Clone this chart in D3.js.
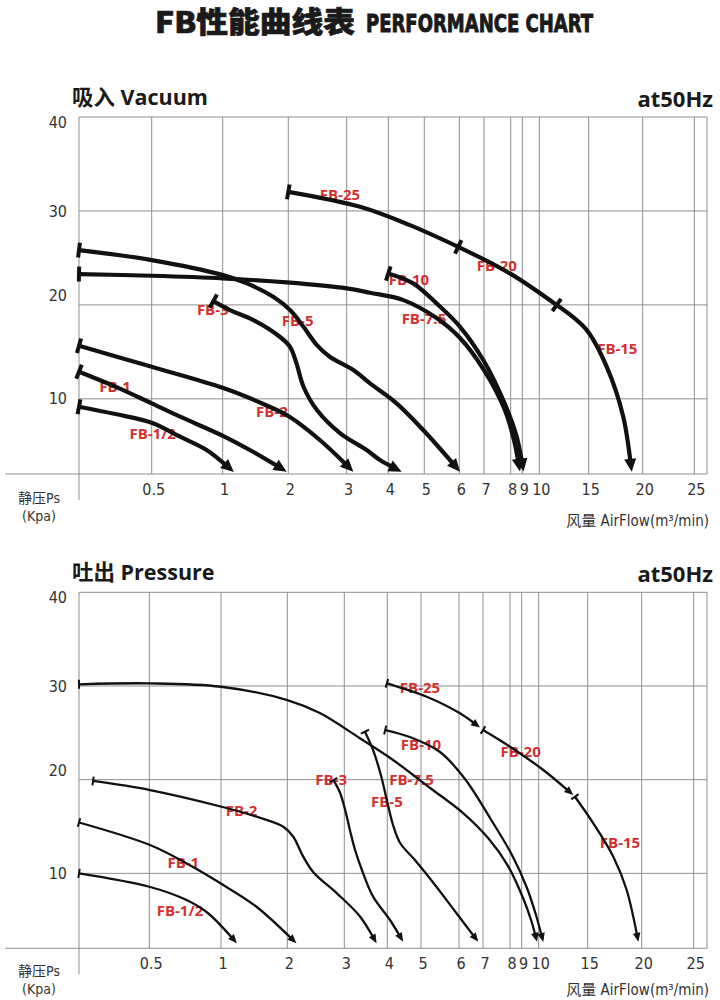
<!DOCTYPE html>
<html><head><meta charset="utf-8">
<script src="https://cdn.jsdelivr.net/npm/d3@7/dist/d3.min.js"></script>
<style>body{margin:0;background:#fff}svg{display:block}</style>
</head><body>
<script>
// ---------- data ----------
const xTicks = [0.5, 1, 2, 3, 4, 5, 6, 7, 8, 9, 10, 15, 20, 25];
const yTicks = [10, 20, 30, 40];
const xDomain = [0, ...xTicks, 26.2];
const yDomain = [2, 40];

// Vacuum (吸入) curves: [airflow m3/min, static pressure kPa]
const vacFB_1_2 = [[0,9.16],[0.25,8.38],[0.5,7.46],[0.70,5.97],[0.887,4.55],[1.17,2.2]];
const vacFB_1   = [[0,12.88],[0.25,11.3],[0.5,9.52],[0.70,8.10],[1.01,6.04],[1.47,4.34],[1.976,2.25]];
const vacFB_2   = [[0,15.65],[0.5,13.41],[1.01,11.15],[1.62,9.45],[2,8.17],[2.54,5.62],[3.16,2.25]];
const vacFB_3   = [[0.934,20.40],[1.11,19.45],[1.47,18.38],[1.87,16.61],[2.03,15.54],[2.14,13.78],[2.26,11.29],[2.49,8.81],[2.89,6.33],[3.48,4.55],[3.80,3.49],[4.37,2.25]];
const vacFB_5   = [[0,25.83],[0.5,24.77],[1.005,23.17],[1.37,22.29],[1.77,20.86],[2.03,19.45],[2.26,17.67],[2.49,15.72],[2.71,14.48],[3.16,13.06],[3.56,11.65],[4.23,9.52],[4.97,6.68],[6.03,2.25]];
const vacFB_7_5 = [[0,23.28],[0.5,23.10],[1.004,22.82],[1.976,22.39],[3.0,21.76],[3.56,21.29],[4.42,20.51],[5.35,18.60],[6.03,16.47],[7.0,13.06],[7.75,9.02],[8.28,5.62],[8.80,2.27]];
const vacFB_10  = [[4.0,23.35],[4.69,22.29],[5.35,20.16],[6.03,17.67],[6.97,14.13],[7.72,9.87],[8.52,5.97],[9.07,2.27]];
const vacFB_25  = [[2.0,32.03],[3.32,30.44],[4.60,28.49],[5.97,26.18]];
const vacFB_20  = [[5.97,26.18],[7.97,23.35],[11.76,19.98]];
const vacFB_15  = [[11.76,19.98],[14.80,17.32],[16.67,13.41],[18.20,8.10],[18.98,2.24]];

// Pressure (吐出) curves
const preFB_1_2 = [[0,10.00],[0.5,8.57],[0.76,7.15],[0.91,5.74],[1.24,2.53]];
const preFB_1   = [[0,15.43],[0.505,13.02],[0.78,10.89],[1.01,8.86],[1.54,6.41],[2.16,2.53]];
const preFB_2   = [[0.10,19.86],[0.505,18.89],[1.01,17.11],[1.54,16.04],[1.94,14.98],[2.105,13.91],[2.28,11.78],[2.46,10.09],[2.87,7.87],[3.37,5.37],[3.75,2.53]];
const preFB_3   = [[2.81,19.96],[2.92,18.68],[3.02,16.76],[3.13,14.63],[3.25,12.49],[3.41,10.36],[3.67,7.51],[4.08,5.02],[4.47,2.70]];
const preFB_5   = [[3.48,25.12],[3.67,23.16],[3.85,20.50],[4.02,17.29],[4.17,15.16],[4.38,13.24],[4.82,11.42],[5.37,8.76],[5.97,5.55],[6.80,2.70]];
const preFB_7_5 = [[0,30.18],[0.5,30.28],[1.0,29.92],[2.0,28.50],[2.57,27.11],[3.37,24.4],[4.17,22.10],[5.24,19.11],[6.17,16.44],[7.19,13.77],[7.93,10.78],[9.08,7.37],[9.55,5.02],[9.90,2.70]];
const preFB_10  = [[3.95,25.30],[4.67,24.55],[5.50,22.95],[6.25,20.07],[7.26,15.91],[8.17,11.96],[9.31,8.44],[9.84,5.55],[10.47,2.67]];
const preFB_25  = [[3.99,30.28],[5.15,28.85],[6.04,27.08],[6.875,25.56]];
const preFB_20  = [[7.0,25.30],[8.0,23.52],[10.47,21.03],[13.53,18.36]];
const preFB_15  = [[13.70,18.18],[15.52,15.34],[17.37,11.78],[18.61,8.22],[19.69,2.70]];

// Curve labels: [name, airflow, pressure]
const vacLabels = [["FB-25",2.885,31.76],["FB-20",7.48,24.16],["FB-15",17.65,15.37],["FB-10",4.575,22.74],["FB-7.5",4.99,18.56],["FB-5",2.16,18.31],["FB-3",0.93,19.52],["FB-2",1.75,8.63],["FB-1",0.248,11.29],["FB-1/2",0.507,6.33]];
const preLabels = [["FB-25",4.97,29.81],["FB-10",5.0,23.70],["FB-20",8.91,22.98],["FB-7.5",4.72,19.96],["FB-5",3.99,17.65],["FB-15",17.99,13.27],["FB-3",2.77,19.96],["FB-2",1.31,16.65],["FB-1",0.737,11.14],["FB-1/2",0.714,5.98]];

// ---------- drawing ----------
const NARROW = "'Liberation Sans Narrow','DejaVu Sans Condensed','Noto Sans CJK SC',sans-serif";
const BOLD = "'Open Sans','Noto Sans CJK SC',sans-serif";
const RED = "#d3302f";

const svg = d3.select("body").append("svg").attr("width",720).attr("height",1000);

// main title
svg.append("text").attr("x",155).attr("y",33).attr("fill","#1a1a1a").attr("stroke","#1a1a1a").attr("stroke-width",0.7)
  .attr("font-family","'Noto Sans CJK SC','Open Sans',sans-serif").attr("font-weight",900).attr("font-size",29)
  .attr("textLength",200).attr("lengthAdjust","spacingAndGlyphs").text("FB性能曲线表");
svg.append("text").attr("x",366).attr("y",32).attr("fill","#1a1a1a").attr("stroke","#1a1a1a").attr("stroke-width",0.9)
  .attr("font-family","'DejaVu Sans Condensed','DejaVu Sans',sans-serif").attr("font-stretch","condensed")
  .attr("font-weight",700).attr("font-size",25.5)
  .attr("textLength",227).attr("lengthAdjust","spacingAndGlyphs").text("PERFORMANCE CHART");

function drawPanel(o){
  const g = svg.append("g");
  const x = d3.scaleLinear().domain(xDomain).range(o.xRange);
  const y = d3.scaleLinear().domain(yDomain).range([o.yBottom, o.yTop]);
  const xMax = xDomain[xDomain.length-1];

  // headings
  g.append("text").attr("x",72).attr("y",o.yTop-12).attr("font-family",BOLD).attr("font-weight",700)
    .attr("font-size",21.5).attr("fill","#1a1a1a").text(o.heading);
  g.append("text").attr("x",713).attr("y",o.yTop-10).attr("text-anchor","end").attr("font-family",BOLD)
    .attr("font-weight",700).attr("font-size",22).attr("fill","#1a1a1a").text("at50Hz");

  // grid
  const grid = g.append("g").attr("stroke","#8e8e8e").attr("stroke-width",1);
  xTicks.forEach(v => grid.append("line").attr("x1",x(v)).attr("x2",x(v)).attr("y1",y(40)).attr("y2",y(2)));
  grid.append("line").attr("x1",x(0)).attr("x2",x(0)).attr("y1",y(40)).attr("y2",y(2)+26);
  grid.append("line").attr("x1",x(xMax)).attr("x2",x(xMax)).attr("y1",y(40)).attr("y2",y(2));
  yTicks.forEach(v => grid.append("line").attr("x1",x(0)).attr("x2",x(xMax)).attr("y1",y(v)).attr("y2",y(v)));
  grid.append("line").attr("x1",5).attr("x2",x(xMax)).attr("y1",y(2)).attr("y2",y(2));

  // y tick labels
  const nudge = {40:5, 20:-9};
  yTicks.forEach(v => g.append("text").attr("x",67).attr("y",y(v)+(nudge[v]||0)).attr("dy","0.35em")
    .attr("text-anchor","end").attr("font-family",NARROW).attr("font-stretch","condensed")
    .attr("font-size",16).attr("fill","#333").text(v));
  // x tick labels
  xTicks.forEach(v => g.append("text").attr("x",x(v)+2).attr("y",y(2)+15).attr("dy","0.35em")
    .attr("text-anchor","middle").attr("font-family",NARROW).attr("font-stretch","condensed")
    .attr("font-size",16).attr("fill","#333").text(v));
  // axis titles
  g.append("text").attr("x",39).attr("y",y(2)+o.psDy).attr("dy","0.35em").attr("text-anchor","middle")
    .attr("font-family",NARROW).attr("font-stretch","condensed").attr("font-size",14).attr("fill","#333").text("静压Ps");
  g.append("text").attr("x",39).attr("y",y(2)+o.psDy+18).attr("dy","0.35em").attr("text-anchor","middle")
    .attr("font-family",NARROW).attr("font-stretch","condensed").attr("font-size",14).attr("fill","#333").text("(Kpa)");
  g.append("text").attr("x",709).attr("y",y(2)+o.afDy).attr("dy","0.35em").attr("text-anchor","end")
    .attr("font-family",NARROW).attr("font-stretch","condensed").attr("font-size",15).attr("fill","#333").text("风量 AirFlow(m³/min)");

  // labels
  o.labels.forEach(l => g.append("text").attr("x",x(l[1])).attr("y",y(l[2])).attr("dy","0.36em")
    .attr("text-anchor","middle").attr("font-family",BOLD).attr("font-weight",700).attr("font-size",15)
    .attr("fill",RED).text(l[0]));

  // curves
  const line = d3.line().x(d=>x(d[0])).y(d=>y(d[1])).curve(d3.curveCatmullRom.alpha(0.5));
  const cg = g.append("g");
  o.series.forEach(s => {
    const p = cg.append("path").attr("d",line(s.pts)).attr("fill","none").attr("stroke","#111")
      .attr("stroke-width",o.sw).attr("stroke-linecap","butt").attr("stroke-linejoin","round");
    const node = p.node(); const L = node.getTotalLength();
    if (s.start === "tick") {
      const a = node.getPointAtLength(0), b = node.getPointAtLength(Math.min(4,L));
      let dx=b.x-a.x, dy=b.y-a.y; const n=Math.hypot(dx,dy)||1; dx/=n; dy/=n;
      const h=o.tick/2;
      cg.append("line").attr("x1",a.x-dy*h).attr("y1",a.y+dx*h).attr("x2",a.x+dy*h).attr("y2",a.y-dx*h)
        .attr("stroke","#111").attr("stroke-width",o.tickW);
    }
    if (s.end === "arrow") {
      const tip = node.getPointAtLength(L), b = node.getPointAtLength(L-5);
      let dx=tip.x-b.x, dy=tip.y-b.y; const n=Math.hypot(dx,dy)||1; dx/=n; dy/=n;
      const bx=tip.x-dx*o.aLen, by=tip.y-dy*o.aLen;
      p.attr("stroke-dasharray", `${L-o.aLen*0.7} ${L+20}`);
      cg.append("path").attr("d",`M${tip.x},${tip.y}L${bx-dy*o.aHw},${by+dx*o.aHw}L${bx+dy*o.aHw},${by-dx*o.aHw}Z`)
        .attr("fill","#111");
    }
  });
}

drawPanel({
  heading:"吸入 Vacuum",
  xRange:[79,151.7,222.7,288.3,346.7,388.3,424.3,459.3,484,510.7,522.3,539.3,588.7,642.7,694.3,707],
  yBottom:474, yTop:117, sw:4.2, tick:15, tickW:4, aLen:13, aHw:6, psDy:24, afDy:47,
  labels: vacLabels,
  series:[
    {pts:vacFB_1_2,start:"tick",end:"arrow"},
    {pts:vacFB_1,start:"tick",end:"arrow"},
    {pts:vacFB_2,start:"tick",end:"arrow"},
    {pts:vacFB_3,start:"tick",end:"arrow"},
    {pts:vacFB_5,start:"tick",end:"arrow"},
    {pts:vacFB_7_5,start:"tick",end:"arrow"},
    {pts:vacFB_10,start:"tick",end:"arrow"},
    {pts:vacFB_25,start:"tick",end:"none"},
    {pts:vacFB_20,start:"tick",end:"none"},
    {pts:vacFB_15,start:"tick",end:"arrow"}
  ]
});

drawPanel({
  heading:"吐出 Pressure",
  xRange:[79,149.3,221,287.3,344.3,387.3,421,459,483,510,521.7,538.7,587.7,641.7,693.7,707],
  yBottom:948.3, yTop:592.3, sw:2.3, tick:9, tickW:2, aLen:9, aHw:3.8, psDy:23, afDy:41,
  labels: preLabels,
  series:[
    {pts:preFB_1_2,start:"tick",end:"arrow"},
    {pts:preFB_1,start:"tick",end:"arrow"},
    {pts:preFB_2,start:"tick",end:"arrow"},
    {pts:preFB_3,start:"tick",end:"arrow"},
    {pts:preFB_5,start:"tick",end:"arrow"},
    {pts:preFB_7_5,start:"tick",end:"arrow"},
    {pts:preFB_10,start:"tick",end:"arrow"},
    {pts:preFB_25,start:"tick",end:"arrow"},
    {pts:preFB_20,start:"tick",end:"arrow"},
    {pts:preFB_15,start:"tick",end:"arrow"}
  ]
});
</script>
</body></html>
